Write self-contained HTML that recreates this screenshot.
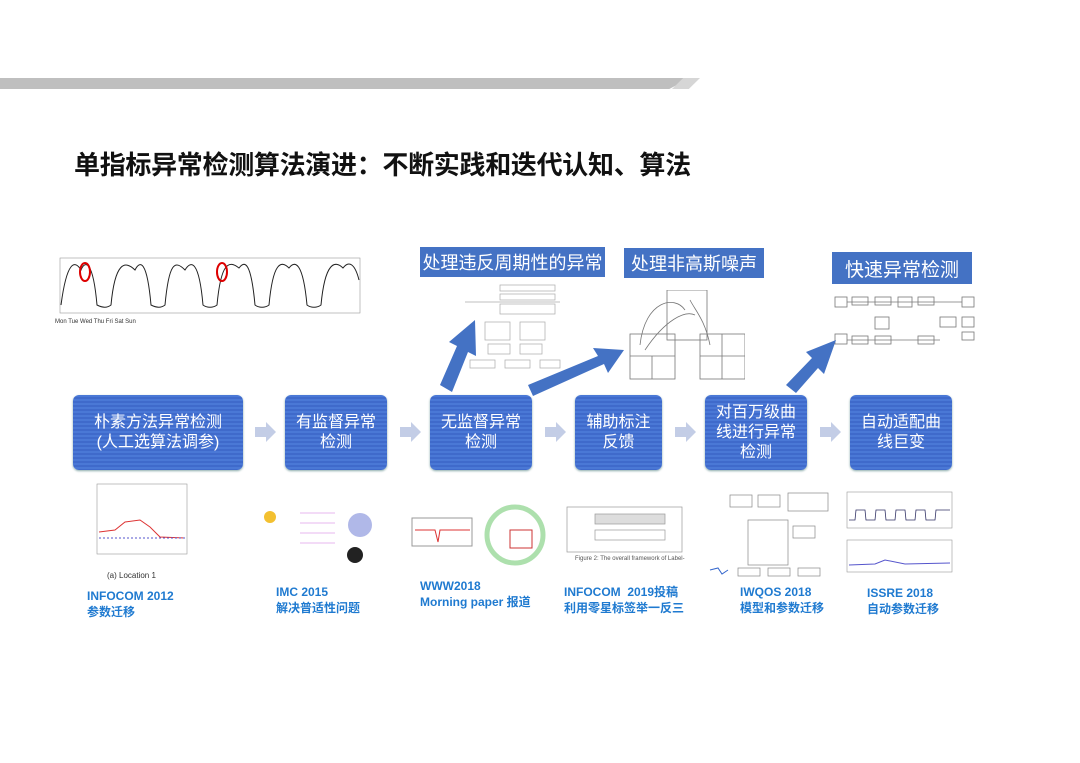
<!DOCTYPE html>
<html><head><meta charset="utf-8"><style>
body{margin:0;width:1080px;height:763px;background:#fff;position:relative;overflow:hidden;font-family:"Liberation Sans","Noto Sans CJK SC",sans-serif}
.abs{position:absolute}
.box{position:absolute;background:repeating-linear-gradient(180deg,#4a78d6 0px,#4a78d6 2px,#3f6acb 2px,#3f6acb 4px);border-radius:6px;color:#fff;font-size:16px;line-height:20px;text-align:center;display:flex;align-items:center;justify-content:center;box-shadow:0 1px 2px #8aa}
.lab{position:absolute;background:#4472c4;color:#fff;display:flex;align-items:center;justify-content:center}
.cap{position:absolute;color:#1f7ad0;font-size:12px;font-weight:bold;line-height:16px}
.sa{position:absolute;width:0;height:0;border-top:10px solid transparent;border-bottom:10px solid transparent;border-left:10px solid #c3cde6}
.sa:before{content:"";position:absolute;left:-21px;top:-5px;width:11px;height:10px;background:#c3cde6}
</style></head><body>
<div class="abs" style="left:0;top:78px;width:690px;height:11px;background:#bfbfbf;clip-path:polygon(0 0,100% 0,97% 100%,0 100%)"></div>
<div class="abs" style="left:672px;top:78px;width:28px;height:11px;background:#d6d6d6;clip-path:polygon(40% 0,100% 0,60% 100%,0 100%)"></div>
<div class="abs" style="left:74px;top:145px;font-size:26px;font-weight:bold;color:#111;letter-spacing:-0.3px">单指标异常检测算法演进：不断实践和迭代认知、算法</div>

<svg class="abs" style="left:45px;top:250px" width="320" height="80">
<rect x="15" y="8" width="300" height="55" fill="none" stroke="#999" stroke-width="0.6"/>
<path d="M16 55 C22 10,30 10,36 20 C40 10,48 10,52 55 C58 58,62 58,66 55 C70 12,80 10,90 20 C95 10,102 10,106 55 C112 58,116 58,120 55 C124 12,130 10,140 20 C146 10,154 10,158 55 C162 58,168 58,172 55 C176 12,184 10,194 18 C200 10,206 12,210 55 C214 58,220 58,224 55 C228 12,236 10,244 18 C250 10,258 12,262 55 C266 58,272 58,276 55 C280 12,290 10,298 18 C304 10,310 14,314 30" fill="none" stroke="#222" stroke-width="1"/>
<ellipse cx="40" cy="22" rx="5" ry="9" fill="none" stroke="#d00" stroke-width="2"/>
<ellipse cx="177" cy="22" rx="5" ry="9" fill="none" stroke="#d00" stroke-width="2"/>
<text x="10" y="73" font-size="6" fill="#333">Mon      Tue       Wed       Thu       Fri        Sat        Sun</text>
</svg>

<div class="lab" style="left:420px;top:247px;width:185px;height:30px;font-size:18px">处理违反周期性的异常</div>
<div class="lab" style="left:624px;top:248px;width:140px;height:30px;font-size:18px">处理非高斯噪声</div>
<div class="lab" style="left:832px;top:252px;width:140px;height:32px;font-size:19px">快速异常检测</div>

<svg class="abs" style="left:460px;top:280px" width="110" height="95"><g fill="none" stroke="#aaa" stroke-width="0.7">
<rect x="40" y="5" width="55" height="6"/><rect x="40" y="14" width="55" height="6"/><rect x="40" y="24" width="55" height="10"/><line x1="5" y1="22" x2="100" y2="22"/>
<rect x="25" y="42" width="25" height="18"/><rect x="60" y="42" width="25" height="18"/><rect x="28" y="64" width="22" height="10"/><rect x="60" y="64" width="22" height="10"/><rect x="10" y="80" width="25" height="8"/><rect x="45" y="80" width="25" height="8"/><rect x="80" y="80" width="20" height="8"/></g></svg>
<svg class="abs" style="left:625px;top:290px" width="120" height="90"><g fill="none" stroke="#777" stroke-width="0.8">
<rect x="42" y="0" width="40" height="50"/><rect x="5" y="44" width="45" height="45"/><rect x="75" y="44" width="45" height="45"/><line x1="5" y1="66" x2="50" y2="66"/><line x1="27" y1="66" x2="27" y2="89"/><line x1="75" y1="66" x2="120" y2="66"/><line x1="97" y1="44" x2="97" y2="89"/><path d="M15 55 C20 10,50 5,60 20 M20 60 C40 30,60 20,70 25 M85 55 C80 30,70 20,65 10"/></g></svg>
<svg class="abs" style="left:830px;top:292px" width="150" height="60"><g fill="none" stroke="#777" stroke-width="0.8">
<rect x="5" y="5" width="12" height="10"/><rect x="22" y="5" width="16" height="8"/><rect x="45" y="5" width="16" height="8"/><rect x="68" y="5" width="14" height="10"/><rect x="88" y="5" width="16" height="8"/><rect x="110" y="25" width="16" height="10"/><rect x="132" y="5" width="12" height="10"/><rect x="132" y="25" width="12" height="10"/><rect x="132" y="40" width="12" height="8"/><rect x="45" y="25" width="14" height="12"/><rect x="5" y="42" width="12" height="10"/><rect x="22" y="44" width="16" height="8"/><rect x="45" y="44" width="16" height="8"/><rect x="88" y="44" width="16" height="8"/><line x1="17" y1="10" x2="132" y2="10"/><line x1="17" y1="48" x2="110" y2="48"/></g></svg>

<svg class="abs" style="left:0;top:0" width="1080" height="763"><g fill="#4472c4">
<polygon points="440,385 452,392 468,352 476,356 475,320 449,342 457,346"/>
<polygon points="528,385 533,396 604,364 608,373 624,350 593,348 598,356"/>
<polygon points="786,385 796,393 818,368 824,374 836,340 806,352 812,358"/></g></svg>

<div class="box" style="left:73px;top:395px;width:170px;height:75px">朴素方法异常检测<br>(人工选算法调参)</div>
<div class="box" style="left:285px;top:395px;width:102px;height:75px">有监督异常<br>检测</div>
<div class="box" style="left:430px;top:395px;width:102px;height:75px">无监督异常<br>检测</div>
<div class="box" style="left:575px;top:395px;width:87px;height:75px">辅助标注<br>反馈</div>
<div class="box" style="left:705px;top:395px;width:102px;height:75px">对百万级曲<br>线进行异常<br>检测</div>
<div class="box" style="left:850px;top:395px;width:102px;height:75px">自动适配曲<br>线巨变</div>
<div class="sa" style="left:266px;top:422px"></div>
<div class="sa" style="left:411px;top:422px"></div>
<div class="sa" style="left:556px;top:422px"></div>
<div class="sa" style="left:686px;top:422px"></div>
<div class="sa" style="left:831px;top:422px"></div>

<svg class="abs" style="left:85px;top:482px" width="105" height="100"><g fill="none" stroke="#999" stroke-width="0.6"><rect x="12" y="2" width="90" height="70"/></g>
<path d="M14 50 L30 48 L40 40 L55 38 L65 45 L75 55 L100 56" fill="none" stroke="#d33" stroke-width="1"/>
<path d="M14 56 L100 56" stroke="#55c" stroke-dasharray="2,2"/><text x="22" y="96" font-size="8" fill="#333">(a) Location 1</text></svg>
<svg class="abs" style="left:260px;top:495px" width="120" height="75"><circle cx="10" cy="22" r="6" fill="#f3c030"/><g stroke="#d070e0" stroke-width="0.6"><line x1="40" y1="18" x2="75" y2="18"/><line x1="40" y1="28" x2="75" y2="28"/><line x1="40" y1="38" x2="75" y2="38"/><line x1="40" y1="48" x2="75" y2="48"/></g><circle cx="100" cy="30" r="12" fill="#b0b8e8"/><circle cx="95" cy="60" r="8" fill="#222"/></svg>
<svg class="abs" style="left:410px;top:500px" width="140" height="75"><rect x="2" y="18" width="60" height="28" fill="none" stroke="#999"/><path d="M5 30 L25 30 L28 42 L30 30 L60 30" fill="none" stroke="#d33"/><circle cx="105" cy="35" r="28" fill="none" stroke="#7c7" stroke-width="5" opacity="0.6"/><rect x="100" y="30" width="22" height="18" fill="none" stroke="#c33"/></svg>
<svg class="abs" style="left:565px;top:502px" width="120" height="60"><g fill="none" stroke="#999" stroke-width="0.7"><rect x="2" y="5" width="115" height="45"/><rect x="30" y="12" width="70" height="10" fill="#ddd"/><rect x="30" y="28" width="70" height="10"/></g><text x="10" y="58" font-size="6" fill="#555">Figure 2: The overall framework of Label-less</text></svg>
<svg class="abs" style="left:708px;top:490px" width="125" height="90"><g fill="none" stroke="#888" stroke-width="0.7"><rect x="22" y="5" width="22" height="12"/><rect x="50" y="5" width="22" height="12"/><rect x="80" y="3" width="40" height="18"/><rect x="40" y="30" width="40" height="45"/><rect x="85" y="36" width="22" height="12"/><rect x="30" y="78" width="22" height="8"/><rect x="60" y="78" width="22" height="8"/><rect x="90" y="78" width="22" height="8"/></g><path d="M2 80 L10 78 L14 84 L20 80" stroke="#36c" fill="none"/></svg>
<svg class="abs" style="left:845px;top:490px" width="110" height="90"><g fill="none" stroke="#999" stroke-width="0.6"><rect x="2" y="2" width="105" height="36"/><rect x="2" y="50" width="105" height="32"/></g><path d="M4 30 L10 30 L11 20 L20 20 L21 30 L30 30 L31 20 L40 20 L41 30 L50 30 L51 20 L60 20 L61 30 L70 30 L71 20 L80 20 L81 30 L90 30 L91 20 L105 20" fill="none" stroke="#336" stroke-width="0.8"/><path d="M4 75 L30 74 L40 70 L60 74 L105 73" fill="none" stroke="#55c"/></svg>

<div class="cap" style="left:87px;top:588px">INFOCOM 2012<br>参数迁移</div>
<div class="cap" style="left:276px;top:584px">IMC 2015<br>解决普适性问题</div>
<div class="cap" style="left:420px;top:578px">WWW2018<br>Morning paper 报道</div>
<div class="cap" style="left:564px;top:584px">INFOCOM&nbsp; 2019投稿<br>利用零星标签举一反三</div>
<div class="cap" style="left:740px;top:584px">IWQOS 2018<br>模型和参数迁移</div>
<div class="cap" style="left:867px;top:585px">ISSRE 2018<br>自动参数迁移</div>
</body></html>
